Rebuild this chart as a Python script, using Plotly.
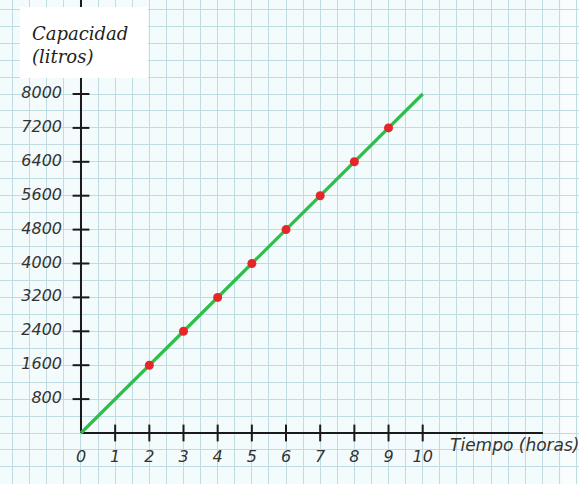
import plotly.graph_objects as go

# Data
x_ticks = [0, 1, 2, 3, 4, 5, 6, 7, 8, 9, 10]
y_ticks = [800, 1600, 2400, 3200, 4000, 4800, 5600, 6400, 7200, 8000]
line_x = [0, 10]
line_y = [0, 8000]
pts_x = [2, 3, 4, 5, 6, 7, 8, 9]
pts_y = [1600, 2400, 3200, 4000, 4800, 5600, 6400, 7200]
x_title = "Tiempo (horas)"
y_title = "Capacidad<br>(litros)"

W, H = 579, 484
X_RANGE = [-2.370, 14.574]
Y_RANGE = [-1203.5, 10218.3]

fig = go.Figure()

ink = "#1a1a1a"
lab = "#333333"

# axes lines
fig.add_trace(go.Scatter(x=[0, 13.52], y=[0, 0], mode="lines",
                         line=dict(color=ink, width=2), hoverinfo="skip"))
fig.add_trace(go.Scatter(x=[0, 0], y=[0, 10218], mode="lines",
                         line=dict(color=ink, width=2), hoverinfo="skip"))
# tick crosses
fig.add_trace(go.Scatter(x=x_ticks[1:], y=[0] * (len(x_ticks) - 1), mode="markers",
                         marker=dict(symbol="line-ns", size=12, line=dict(color=ink, width=2)),
                         hoverinfo="skip"))
fig.add_trace(go.Scatter(x=[0] * len(y_ticks), y=y_ticks, mode="markers",
                         marker=dict(symbol="line-ew", size=12, line=dict(color=ink, width=2)),
                         hoverinfo="skip"))

# green line and red points
fig.add_trace(go.Scatter(x=line_x, y=line_y, mode="lines",
                         line=dict(color="#2cbf4a", width=3.2), hoverinfo="skip"))
fig.add_trace(go.Scatter(x=pts_x, y=pts_y, mode="markers",
                         marker=dict(color="#e5262a", size=9), hoverinfo="skip"))

# tick labels
fig.add_trace(go.Scatter(x=x_ticks, y=[-600] * len(x_ticks), mode="text",
                         text=[str(v) for v in x_ticks], textposition="middle center",
                         textfont=dict(family="DejaVu Sans", size=16, color=lab, style="italic"),
                         hoverinfo="skip"))
fig.add_trace(go.Scatter(x=[-0.556] * len(y_ticks), y=y_ticks, mode="text",
                         text=[str(v) for v in y_ticks], textposition="middle left",
                         textfont=dict(family="DejaVu Sans", size=16, color=lab, style="italic"),
                         hoverinfo="skip"))
# x title
fig.add_trace(go.Scatter(x=[10.8], y=[-330], mode="text",
                         text=[x_title], textposition="middle right",
                         textfont=dict(family="DejaVu Sans", size=17, color=lab, style="italic"),
                         hoverinfo="skip"))

fig.update_layout(
    width=W, height=H,
    margin=dict(l=0, r=0, t=0, b=0),
    paper_bgcolor="#f3fbfc", plot_bgcolor="#f3fbfc",
    showlegend=False,
    xaxis=dict(range=X_RANGE, tick0=0, dtick=0.5, showgrid=True, gridcolor="#bfdde0",
               gridwidth=1, zeroline=False, showticklabels=False, showline=False, fixedrange=True),
    yaxis=dict(range=Y_RANGE, tick0=0, dtick=400, showgrid=True, gridcolor="#bfdde0",
               gridwidth=1, zeroline=False, showticklabels=False, showline=False, fixedrange=True),
    shapes=[
        dict(type="rect", xref="paper", yref="paper",
             x0=20 / W, x1=148 / W, y0=1 - 78 / H, y1=1 - 7 / H,
             fillcolor="white", line=dict(width=0), layer="above"),
        dict(type="rect", xref="paper", yref="paper",
             x0=562 / W, x1=1, y0=0, y1=1,
             fillcolor="rgba(255,255,255,0.6)", line=dict(width=0), layer="below"),
    ],
    annotations=[
        dict(xref="paper", yref="paper", x=30 / W, y=1 - 45 / H, xanchor="left", yanchor="middle",
             text=y_title, showarrow=False, align="left",
             font=dict(family="DejaVu Serif", size=18, color="#222222", style="italic")),
    ],
)

fig.write_html("out.html", config={"displayModeBar": False},
               post_script="document.body.style.margin='0';document.body.style.overflow='hidden';")
